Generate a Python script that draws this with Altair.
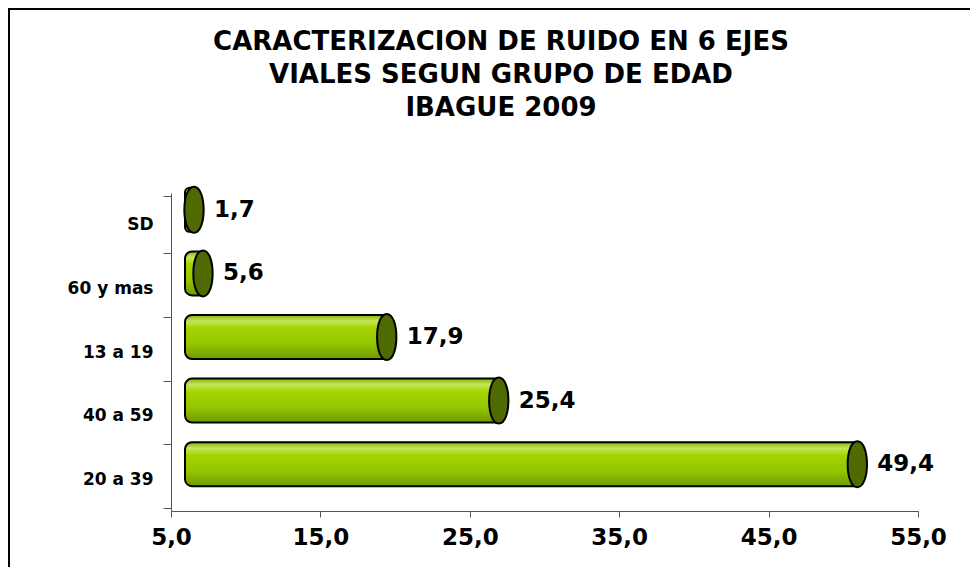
import altair as alt
import pandas as pd

categories = ["SD", "60 y mas", "13 a 19", "40 a 59", "20 a 39"]
values = [1.7, 5.6, 17.9, 25.4, 49.4]
x_ticks = [5, 15, 25, 35, 45, 55]
title_lines = ["CARACTERIZACION DE RUIDO EN 6 EJES",
               "VIALES SEGUN GRUPO DE EDAD",
               "IBAGUE 2009"]
axis_min = 5

df = pd.DataFrame({"grupo": categories, "valor": values})
df["base"] = axis_min
df["etiqueta"] = [f"{v:.1f}".replace(".", ",") for v in values]

DX, DY = 23, -15
W, H = 747, 318

xscale = alt.Scale(domain=[5, 55], clamp=True, nice=False, zero=False)
x_axis = alt.Axis(values=x_ticks, title=None, grid=False,
                  labelExpr="replace(format(datum.value,'.1f'),'.',',')",
                  labelFont="DejaVu Sans", labelFontWeight="bold", labelFontSize=23,
                  labelColor="black", labelPadding=9, tickSize=6,
                  tickColor="#555555", domainColor="#555555", labelFlush=False)
y_axis = alt.Axis(title=None, labelFont="DejaVu Sans", labelFontWeight="bold",
                  labelFontSize=17, labelColor="black", labelPadding=10,
                  tickSize=8, tickBand="extent", tickColor="#555555",
                  domainColor="#555555")

gradient = alt.Gradient(
    gradient="linear", x1=0, y1=0, x2=0, y2=1,
    stops=[alt.GradientStop(color="#86b300", offset=0),
           alt.GradientStop(color="#c6e65a", offset=0.14),
           alt.GradientStop(color="#a3d400", offset=0.3),
           alt.GradientStop(color="#95c600", offset=0.65),
           alt.GradientStop(color="#6f9a00", offset=1)])

ellipse = "M0,-1 C0.56,-1 0.56,1 0,1 C-0.56,1 -0.56,-1 0,-1 Z"

base = alt.Chart(df)
y_enc = alt.Y("grupo:N", sort=categories, axis=y_axis)

bars = base.mark_bar(size=44, fill=gradient, stroke="black", strokeWidth=2,
                     cornerRadiusTopLeft=7, cornerRadiusBottomLeft=7,
                     xOffset=DX, x2Offset=DX - 9, yOffset=DY).encode(
    x=alt.X("valor:Q", scale=xscale, axis=x_axis),
    x2="base:Q",
    y=y_enc)

caps = base.mark_point(shape=ellipse, size=2116, filled=True, fill="#4e6a00",
                       stroke="black", strokeWidth=2, opacity=1,
                       xOffset=DX, yOffset=DY).encode(
    x=alt.X("valor:Q", scale=xscale), y=y_enc)

labels = base.mark_text(align="left", baseline="middle", dx=43, dy=DY,
                        font="DejaVu Sans", fontWeight="bold", fontSize=23,
                        color="black").encode(
    x=alt.X("valor:Q", scale=xscale), y=y_enc, text="etiqueta:N")

one = pd.DataFrame({"a": [0]})
title = alt.Chart(one).mark_text(
    text=title_lines, lineHeight=33, baseline="top", align="center",
    font="DejaVu Sans", fontSize=26, fontWeight="bold", color="black").encode(
    x=alt.value(330), y=alt.value(-164))

frame_top = alt.Chart(one).mark_rule(color="black", strokeWidth=2).encode(
    x=alt.value(-163), x2=alt.value(W + 52), y=alt.value(-184))
frame_left = alt.Chart(one).mark_rule(color="black", strokeWidth=2).encode(
    x=alt.value(-162), y=alt.value(-185), y2=alt.value(H + 56))

chart = alt.layer(bars, caps, labels, title, frame_top, frame_left).properties(
    width=W, height=H,
    autosize=alt.AutoSizeParams(type="none"),
    padding={"left": 163, "top": 185, "right": 52, "bottom": 56},
    background="white",
).configure_view(stroke=None)

chart.save("out.html", embed_options={"renderer": "svg", "actions": False})
